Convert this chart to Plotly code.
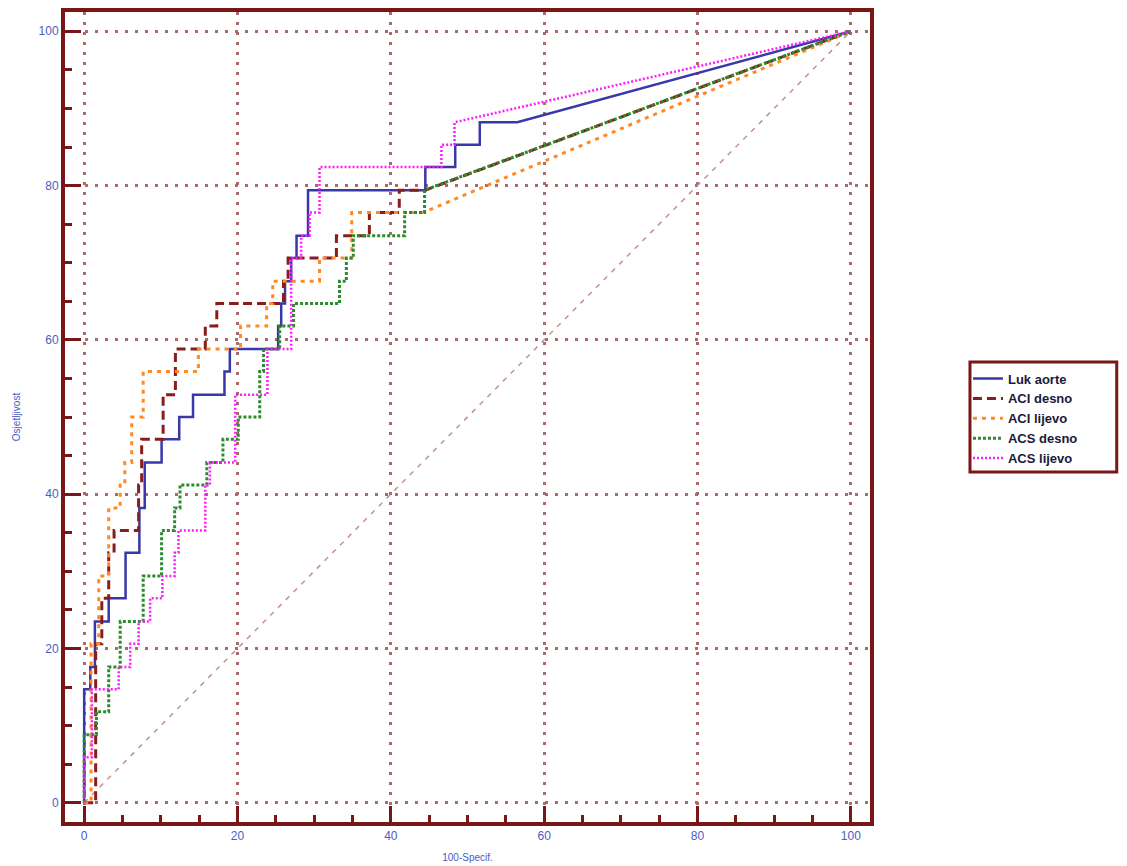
import plotly.graph_objects as go

# ---- data (ROC curve vertices) ----
series_names = ["Luk aorte", "ACI desno", "ACI lijevo", "ACS desno", "ACS lijevo"]

luk_x = [0, 0, 0.8, 0.8, 1.4, 1.4, 3.2, 3.2, 5.4, 5.4, 7.2, 7.2, 7.9, 7.9, 10.1, 10.1, 12.4, 12.4,
         14.2, 14.2, 18.3, 18.3, 19.0, 19.0, 25.3, 25.3, 25.7, 25.7, 26.2, 26.2, 27.0, 27.0, 27.7,
         27.7, 29.2, 29.2, 44.5, 44.5, 48.4, 48.4, 51.6, 51.6, 56.5, 100]
luk_y = [0, 14.7, 14.7, 17.6, 17.6, 23.5, 23.5, 26.5, 26.5, 32.4, 32.4, 38.2, 38.2, 44.1, 44.1,
         47.1, 47.1, 50.0, 50.0, 52.9, 52.9, 55.9, 55.9, 58.8, 58.8, 61.8, 61.8, 64.7, 64.7, 67.6,
         67.6, 70.6, 70.6, 73.5, 73.5, 79.4, 79.4, 82.4, 82.4, 85.3, 85.3, 88.2, 88.2, 100]

acid_x = [0, 1.5, 1.5, 2.3, 2.3, 3.2, 3.2, 3.9, 3.9, 7.1, 7.1, 7.5, 7.5, 10.3, 10.3, 11.9, 11.9,
          15.8, 15.8, 17.3, 17.3, 26.0, 26.0, 26.6, 26.6, 32.9, 32.9, 37.2, 37.2, 41.1, 41.1, 44.5, 100]
acid_y = [0, 0, 20.6, 20.6, 26.5, 26.5, 32.4, 32.4, 35.3, 35.3, 41.2, 41.2, 47.1, 47.1, 52.9, 52.9,
          58.8, 58.8, 61.8, 61.8, 64.7, 64.7, 67.6, 67.6, 70.6, 70.6, 73.5, 73.5, 76.5, 76.5, 79.4,
          79.4, 100]

acil_x = [0, 0.9, 0.9, 1.9, 1.9, 3.2, 3.2, 4.7, 4.7, 5.3, 5.3, 6.2, 6.2, 7.7, 7.7, 14.9, 14.9,
          20.4, 20.4, 23.8, 23.8, 24.6, 24.6, 30.7, 30.7, 34.9, 34.9, 44.2, 100]
acil_y = [0, 0, 20.6, 20.6, 29.4, 29.4, 38.2, 38.2, 41.2, 41.2, 44.1, 44.1, 50.0, 50.0, 55.9, 55.9,
          58.8, 58.8, 61.8, 61.8, 64.7, 64.7, 67.6, 67.6, 70.6, 70.6, 76.5, 76.5, 100]

acsd_x = [0, 0, 1.6, 1.6, 3.2, 3.2, 4.7, 4.7, 7.7, 7.7, 10.1, 10.1, 11.8, 11.8, 12.5, 12.5, 16.0,
          16.0, 18.1, 18.1, 20.1, 20.1, 22.9, 22.9, 23.4, 23.4, 25.5, 25.5, 27.3, 27.3, 33.3, 33.3,
          34.2, 34.2, 35.1, 35.1, 41.8, 41.8, 44.4, 44.4, 100]
acsd_y = [0, 8.8, 8.8, 11.8, 11.8, 17.6, 17.6, 23.5, 23.5, 29.4, 29.4, 35.3, 35.3, 38.2, 38.2,
          41.2, 41.2, 44.1, 44.1, 47.1, 47.1, 50.0, 50.0, 55.9, 55.9, 58.8, 58.8, 61.8, 61.8, 64.7,
          64.7, 67.6, 67.6, 70.6, 70.6, 73.5, 73.5, 76.5, 76.5, 79.4, 100]

acsl_x = [0, 0, 1.0, 1.0, 4.5, 4.5, 6.0, 6.0, 7.1, 7.1, 8.6, 8.6, 10.2, 10.2, 11.8, 11.8, 12.3,
          12.3, 15.8, 15.8, 16.4, 16.4, 19.7, 19.7, 23.9, 23.9, 27.0, 27.0, 28.3, 28.3, 29.4, 29.4,
          30.7, 30.7, 46.6, 46.6, 48.3, 48.3, 100]
acsl_y = [0, 5.9, 5.9, 14.7, 14.7, 17.6, 17.6, 20.6, 20.6, 23.5, 23.5, 26.5, 26.5, 29.4, 29.4,
          32.4, 32.4, 35.3, 35.3, 41.2, 41.2, 44.1, 44.1, 52.9, 52.9, 58.8, 58.8, 70.6, 70.6, 73.5,
          73.5, 76.5, 76.5, 82.4, 82.4, 85.3, 85.3, 88.2, 100]

diag_x = [0, 100]
diag_y = [0, 100]

tick_vals = [0, 20, 40, 60, 80, 100]
tick_text = ["0", "20", "40", "60", "80", "100"]

# ---- styles ----
MAROON = "#7b1616"
GRID = "#a86a6a"
LABEL = "#4b5cc4"

fig = go.Figure()

fig.add_trace(go.Scatter(x=diag_x, y=diag_y, mode="lines", showlegend=False,
                         line=dict(color="#c49090", width=1.5, dash="5px,6px"),
                         hoverinfo="skip"))

styles = [
    dict(color="#3838a8", width=2.5, dash="solid"),
    dict(color="#8b1c1c", width=3, dash="9px,5px"),
    dict(color="#ff8a24", width=3, dash="4px,5px"),
    dict(color="#2e8a2e", width=3, dash="3px,2px"),
    dict(color="#ff1aff", width=2.5, dash="2px,2px"),
]
xs = [luk_x, acid_x, acil_x, acsd_x, acsl_x]
ys = [luk_y, acid_y, acil_y, acsd_y, acsl_y]

for name, x, y, st in zip(series_names, xs, ys, styles):
    fig.add_trace(go.Scatter(x=x, y=y, mode="lines", name=name, line=st))

axis_common = dict(
    range=[-2.5, 102.5],
    tickvals=tick_vals,
    ticktext=tick_text,
    automargin=False,
    showline=True, mirror=True, linecolor=MAROON, linewidth=4,
    ticks="inside", ticklen=16, tickwidth=3, tickcolor=MAROON,
    minor=dict(ticks="inside", dtick=5, ticklen=7, tickwidth=2.5, tickcolor=MAROON, showgrid=False),
    showgrid=True, gridcolor=GRID, gridwidth=2.5, griddash="3px,7px",
    zeroline=False,
    tickfont=dict(family="Liberation Sans", size=12, color=LABEL),
)

fig.update_xaxes(**axis_common,
                 title=dict(text="100-Specif.", font=dict(family="Liberation Sans", size=10, color=LABEL),
                            standoff=13))
fig.update_yaxes(**axis_common,
                 title=dict(text="Osjetljivost", font=dict(family="Liberation Sans", size=10, color=LABEL),
                            standoff=17))

# legend frame (the page body adds an 8px offset, margins compensate)
fig.add_shape(type="rect", xref="paper", yref="paper",
              x0=1.1242, x1=1.3065, y0=0.4321, y1=0.5679,
              line=dict(color=MAROON, width=3), fillcolor="rgba(0,0,0,0)", layer="above")

fig.update_layout(
    width=1127, height=866,
    margin=dict(l=57, r=265, t=4, b=52),
    plot_bgcolor="white", paper_bgcolor="white",
    legend=dict(x=1.1217, y=0.566, xanchor="left", yanchor="top",
                bgcolor="rgba(0,0,0,0)", borderwidth=0,
                font=dict(family="Liberation Sans", size=13, color="#1a1a3a", weight="bold"),
                tracegroupgap=0, itemwidth=30),
)

fig.write_html("out.html")
